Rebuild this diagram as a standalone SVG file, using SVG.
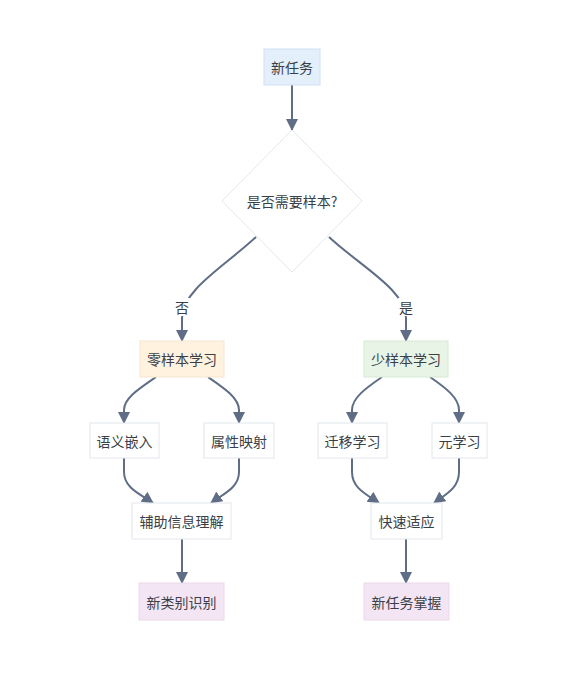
<svg xmlns="http://www.w3.org/2000/svg" width="576" height="675" viewBox="0 0 576 675">
<style>
text{font-family:"Noto Sans CJK SC","Noto Sans",sans-serif;font-size:14px;fill:#3a3f48;text-anchor:middle;dominant-baseline:central}
.n{stroke:#e2e7ee;stroke-width:1}
.w{fill:#ffffff}
.e{fill:none;stroke:#5f6e86;stroke-width:2}
.lbl{fill:#ffffff}
</style>
<defs>
<marker id="ah" viewBox="0 0 12 12" refX="11" refY="6" markerWidth="12" markerHeight="12" markerUnits="userSpaceOnUse" orient="auto">
<path d="M0,0 L12,6 L0,12 z" fill="#5f6e86"/>
</marker>
</defs>
<rect width="576" height="675" fill="#ffffff"/>
<g id="edges">
<path class="e" d="M292,85 L292,130" marker-end="url(#ah)"/>
<path class="e" d="M256,237 C225,266 182,290 182,318 L182,341" marker-end="url(#ah)"/>
<path class="e" d="M329,237 C360,266 406,290 406,318 L406,341" marker-end="url(#ah)"/>
<path class="e" d="M156,377 C140,388 124,398 124,410 L124,423" marker-end="url(#ah)"/>
<path class="e" d="M208,377 C224,388 239,398 239,410 L239,423" marker-end="url(#ah)"/>
<path class="e" d="M382,377 C366,388 352,398 352,410 L352,423" marker-end="url(#ah)"/>
<path class="e" d="M430,377 C446,388 459,398 459,410 L459,423" marker-end="url(#ah)"/>
<path class="e" d="M124,458 L124,472 C124,488 140,494 153,503" marker-end="url(#ah)"/>
<path class="e" d="M239,458 L239,472 C239,488 223,494 211,503" marker-end="url(#ah)"/>
<path class="e" d="M352,458 L352,472 C352,488 366,494 379,503" marker-end="url(#ah)"/>
<path class="e" d="M459,458 L459,472 C459,488 446,494 434,503" marker-end="url(#ah)"/>
<path class="e" d="M182,539 L182,583" marker-end="url(#ah)"/>
<path class="e" d="M406,539 L406,583" marker-end="url(#ah)"/>
<rect class="lbl" x="174" y="298" width="16" height="18"/>
<text x="182" y="307">否</text>
<rect class="lbl" x="398" y="298" width="16" height="18"/>
<text x="406" y="307">是</text>
</g>
<g id="n_start"><rect x="264" y="49" width="56" height="36" fill="#e3effb" stroke="#cfe0f3"/><text x="292" y="67">新任务</text></g>
<g id="n_decide"><polygon points="292,130 362,201 292,272 222,201" class="n w"/><text x="292" y="201">是否需要样本?</text></g>
<g id="n_zero"><rect x="140" y="341" width="84" height="36" fill="#fff2df" stroke="#f5e6cf"/><text x="182" y="359">零样本学习</text></g>
<g id="n_few"><rect x="364" y="341" width="84" height="36" fill="#e7f4e6" stroke="#d6ead4"/><text x="406" y="359">少样本学习</text></g>
<g id="n_sem"><rect x="90" y="423" width="69" height="35" class="n w"/><text x="124.5" y="440.5">语义嵌入</text></g>
<g id="n_attr"><rect x="204" y="423" width="70" height="35" class="n w"/><text x="239" y="440.5">属性映射</text></g>
<g id="n_transfer"><rect x="318" y="423" width="69" height="35" class="n w"/><text x="352.5" y="440.5">迁移学习</text></g>
<g id="n_meta"><rect x="432" y="423" width="55" height="35" class="n w"/><text x="459.5" y="440.5">元学习</text></g>
<g id="n_aux"><rect x="132" y="503" width="99" height="36" class="n w"/><text x="181.5" y="521">辅助信息理解</text></g>
<g id="n_fast"><rect x="371" y="503" width="71" height="36" class="n w"/><text x="406.5" y="521">快速适应</text></g>
<g id="n_newcls"><rect x="139" y="583" width="85" height="37" fill="#f3e5f3" stroke="#ead8ea"/><text x="181.5" y="601.5">新类别识别</text></g>
<g id="n_master"><rect x="364" y="583" width="85" height="37" fill="#f3e5f3" stroke="#ead8ea"/><text x="406.5" y="601.5">新任务掌握</text></g>
</svg>
